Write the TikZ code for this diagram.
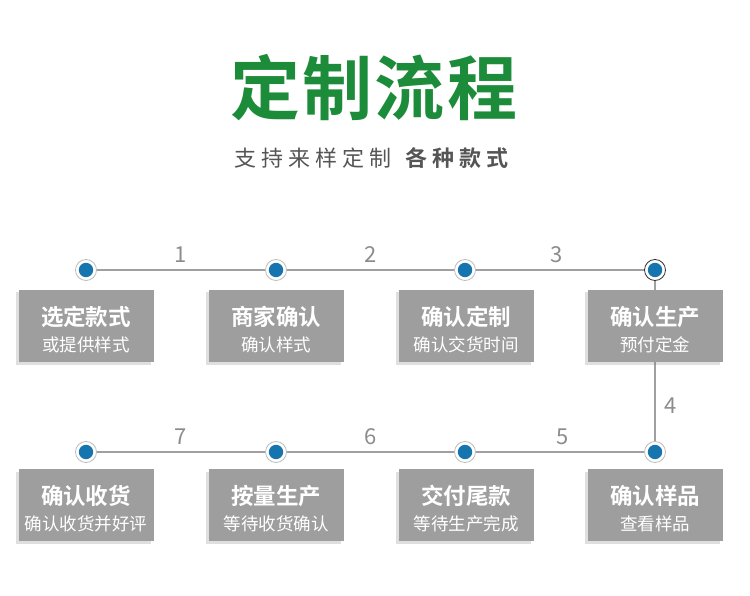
\documentclass[tikz,border=0pt]{standalone}
\usepackage{fontspec}
\setmainfont{Noto Sans CJK SC}[BoldFont={Noto Sans CJK SC Bold}]
\usetikzlibrary{positioning,shadows,backgrounds}
\definecolor{flowgreen}{RGB}{28,140,58}
\definecolor{flowblue}{RGB}{22,116,174}
\definecolor{flowgray}{RGB}{158,158,158}
\definecolor{linegray}{RGB}{160,160,160}
\definecolor{numgray}{RGB}{140,140,140}
\definecolor{subgray}{RGB}{85,85,85}
\tikzset{
  stepdot/.style={circle, draw=linegray!70, line width=0.8pt, fill=white,
                  minimum size=21pt, inner sep=0pt,
                  path picture={\fill[flowblue] (path picture bounding box.center) circle (7.2pt);}},
  lastdot/.style={stepdot, draw=black!80},
  stepbox/.style={rectangle, fill=flowgray, minimum width=135pt, minimum height=72pt,
                  align=center, text=white, inner sep=0pt,
                  drop shadow={shadow xshift=-2.5pt, shadow yshift=-2.5pt, opacity=0.25}},
  flowline/.style={draw=linegray, line width=1.4pt},
  stepnum/.style={font=\fontsize{22}{24}\selectfont, text=numgray, inner sep=0pt},
}
% head line in bold, second line plain; the rule pushes both a bit down
\newcommand{\boxtext}[2]{\rule{0pt}{27pt}{\fontsize{22.5}{25}\selectfont\bfseries #1}\\[8pt]{\fontsize{17.5}{20}\selectfont #2}}

\begin{document}
\begin{tikzpicture}[x=1pt,y=-1pt]
\useasboundingbox (0,0) rectangle (750,596);

% ---------------- heading ----------------
\node[font=\bfseries\fontsize{70}{74}\selectfont\addfontfeature{LetterSpace=3}, text=flowgreen]
  (title) at (374,88) {定制流程};
\node[font=\fontsize{22}{24}\selectfont\addfontfeature{LetterSpace=22}, text=subgray]
  (subtitle) at (374,158) {支持来样定制 \textbf{各种款式}};

% ---------------- step dots ----------------
\node[stepdot] (d1) at (86,270) {};
\node[stepdot] (d2) at (276,270) {};
\node[stepdot] (d3) at (465,270) {};
\node[lastdot] (d4) at (655,270) {};
\node[stepdot] (d5) at (655,452) {};
\node[stepdot] (d6) at (465,452) {};
\node[stepdot] (d7) at (276,452) {};
\node[stepdot] (d8) at (86,452) {};

% ---------------- step boxes ----------------
\node[stepbox] (b1) at (86,326) {\boxtext{选定款式}{或提供样式}};
\node[stepbox] (b2) at (276,326) {\boxtext{商家确认}{确认样式}};
\node[stepbox] (b3) at (466,326) {\boxtext{确认定制}{确认交货时间}};
\node[stepbox] (b4) at (655,326) {\boxtext{确认生产}{预付定金}};
\node[stepbox] (b5) at (655,505) {\boxtext{确认样品}{查看样品}};
\node[stepbox] (b6) at (466,505) {\boxtext{交付尾款}{等待生产完成}};
\node[stepbox] (b7) at (276,505) {\boxtext{按量生产}{等待收货确认}};
\node[stepbox] (b8) at (86,505) {\boxtext{确认收货}{确认收货并好评}};

% ---------------- connecting line (behind everything) ----------------
\begin{scope}[on background layer]
  \draw[flowline] (d1) -- node[stepnum, above=7pt] {1} (d2);
  \draw[flowline] (d2) -- node[stepnum, above=7pt] {2} (d3);
  \draw[flowline] (d3) -- node[stepnum, above=7pt, xshift=-3pt] {3} (d4);
  \draw[flowline] (d4) -- node[stepnum, right=9pt, pos=0.78] {4} (d5);
  \draw[flowline] (d5) -- node[stepnum, above=7pt, xshift=3pt] {5} (d6);
  \draw[flowline] (d6) -- node[stepnum, above=7pt] {6} (d7);
  \draw[flowline] (d7) -- node[stepnum, above=7pt] {7} (d8);
\end{scope}
\end{tikzpicture}
\end{document}
